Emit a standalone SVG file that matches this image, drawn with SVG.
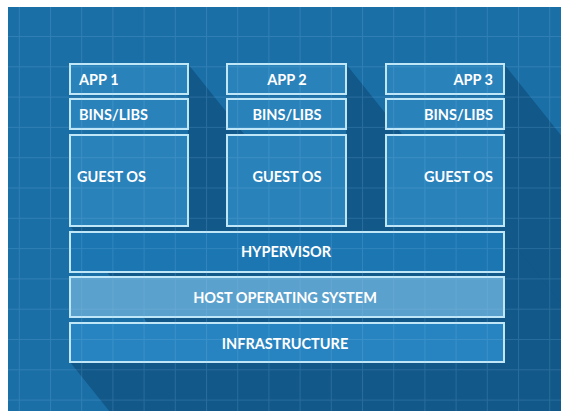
<svg xmlns="http://www.w3.org/2000/svg" width="561" height="411" viewBox="0 0 561 411">
<defs>
<style>
.box{stroke:#bfe7f8;stroke-width:2}
.layer{fill:#2a82bb}
.t{font-family:Lato,"Open Sans","Liberation Sans",sans-serif;font-size:14.5px;font-weight:700;fill:#ffffff}
.sh{fill:#125889}
</style>
<pattern id="grid" x="50" y="36" width="31.2" height="30.3" patternUnits="userSpaceOnUse">
<path d="M0.5 0V30.3M0 0.5H31.2" stroke="#8cc8ee" stroke-width="1" fill="none"/>
</pattern>
<clipPath id="bg"><rect x="8" y="7" width="553" height="404"/></clipPath>
</defs>
<rect width="561" height="411" fill="#ffffff"/>
<rect x="8" y="7" width="553" height="404" fill="#1b6fa7"/>
<g id="shadows" clip-path="url(#bg)">
<polygon class="sh" points="188,64 668,664 668,826 550,826 70,226 188,226"/>
<polygon class="sh" points="346,64 826,664 826,826 707,826 227,226 346,226"/>
<polygon class="sh" points="504,64 984,664 984,826 866,826 386,226 504,226"/>
<polygon class="sh" points="504,232 984,832 984,962 550,962 70,362 504,362"/>
</g>
<g id="col1">
<rect id="app1" class="box layer" x="70" y="64" width="118" height="30"/>
<rect id="bins1" class="box layer" x="70" y="99" width="118" height="30"/>
<rect id="guest1" class="box layer" x="70" y="135" width="118" height="91"/>
</g>
<g id="col2">
<rect id="app2" class="box layer" x="227" y="64" width="119" height="30"/>
<rect id="bins2" class="box layer" x="227" y="99" width="119" height="30"/>
<rect id="guest2" class="box layer" x="227" y="135" width="119" height="91"/>
</g>
<g id="col3">
<rect id="app3" class="box layer" x="386" y="64" width="118" height="30"/>
<rect id="bins3" class="box layer" x="386" y="99" width="118" height="30"/>
<rect id="guest3" class="box layer" x="386" y="135" width="118" height="91"/>
</g>
<g id="hypervisor"><rect class="box" fill="#1c76b2" x="70" y="232" width="434" height="40"/></g>
<g id="hostos"><rect class="box" fill="#5ba1cd" x="70" y="277" width="434" height="40"/></g>
<g id="infrastructure"><rect class="box" fill="#2884c0" x="70" y="323" width="434" height="39"/></g>
<rect x="8" y="7" width="553" height="404" fill="url(#grid)" opacity="0.18"/>
<g id="labels">
<text class="t" x="79" y="85">APP 1</text>
<text class="t" x="79" y="120">BINS/LIBS</text>
<text class="t" x="77" y="182">GUEST OS</text>
<text class="t" x="287" y="85" text-anchor="middle">APP 2</text>
<text class="t" x="287" y="120" text-anchor="middle">BINS/LIBS</text>
<text class="t" x="287" y="182" text-anchor="middle">GUEST OS</text>
<text class="t" x="493" y="85" text-anchor="end">APP 3</text>
<text class="t" x="493" y="120" text-anchor="end">BINS/LIBS</text>
<text class="t" x="493" y="182" text-anchor="end">GUEST OS</text>
<text class="t" x="286" y="257" text-anchor="middle">HYPERVISOR</text>
<text class="t" x="285" y="303" text-anchor="middle">HOST OPERATING SYSTEM</text>
<text class="t" x="285" y="349" text-anchor="middle">INFRASTRUCTURE</text>
</g>
</svg>
